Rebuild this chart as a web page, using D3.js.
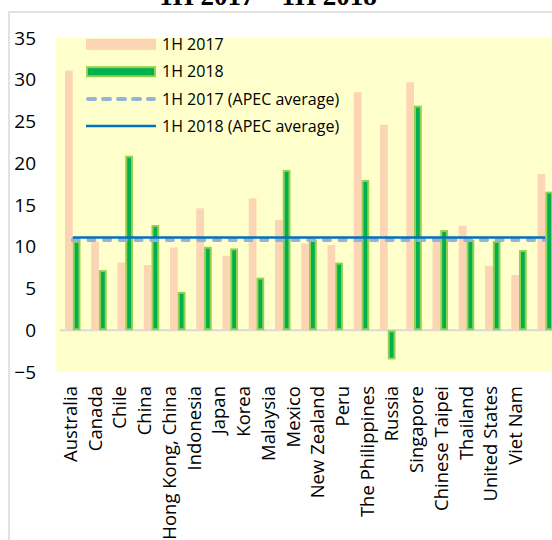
<!DOCTYPE html>
<html><head><meta charset="utf-8">
<script src="https://cdn.jsdelivr.net/npm/d3@7"></script>
<style>
html,body{margin:0;padding:0;background:#fff;}
svg{display:block;}
</style></head>
<body>
<script>
const categories = ["Australia","Canada","Chile","China","Hong Kong, China","Indonesia","Japan","Korea","Malaysia","Mexico","New Zealand","Peru","The Philippines","Russia","Singapore","Chinese Taipei","Thailand","United States","Viet Nam"];
const values2017 = [31.1,10.6,8.1,7.8,9.9,14.6,8.9,15.8,13.2,10.4,10.2,28.5,24.6,29.7,10.6,12.5,7.7,6.6,18.7];
const values2018 = [10.7,7.2,20.9,12.6,4.6,10.0,9.8,6.3,19.2,10.8,8.1,18.0,-3.5,26.9,12.0,10.8,10.7,9.6,16.6];
const avg2017 = 10.8;
const avg2018 = 11.1;
const seriesNames = ["1H 2017","1H 2018","1H 2017 (APEC average)","1H 2018 (APEC average)"];
const yTicks = [-5,0,5,10,15,20,25,30,35];
const title = "1H 2017 – 1H 2018";

const W = 552, H = 540;
const svg = d3.select("body").append("svg").attr("width",W).attr("height",H);

const PINK = "#FCD5B5", GREEN = "#00B050", GREEN_EDGE = "#92D050", DASH = "#95B3D7", BLUE = "#0070C0";
const FONT = "'Open Sans', sans-serif";

// chart border
svg.append("rect").attr("x",9).attr("y",12).attr("width",700).attr("height",700)
  .attr("fill","#fff").attr("stroke","#D9D9D9").attr("stroke-width",1.5);

// title (partially cut at top)
svg.append("text").attr("x",268).attr("y",5).attr("text-anchor","middle")
  .attr("font-family","'Liberation Serif','Times New Roman',serif").attr("font-weight","bold")
  .attr("font-size",27).attr("fill","#000").text(title);

const y = d3.scaleLinear().domain([-5,35]).range([372,38]);
const x = d3.scaleBand().domain(categories).range([59.6,558.4]).paddingInner(0.41).paddingOuter(0.205);
const xs = d3.scaleBand().domain(["2017","2018"]).range([0,x.bandwidth()]);

// plot background
svg.append("rect").attr("x",56).attr("y",y(35)).attr("width",W-56).attr("height",y(-5)-y(35)).attr("fill","#FFFFCC");

// zero line
svg.append("line").attr("x1",60).attr("x2",W).attr("y1",y(0)).attr("y2",y(0))
  .attr("stroke","#D9D9D9").attr("stroke-width",2);

// y axis labels
const yAxis = d3.axisLeft(y).tickValues(yTicks).tickSize(0).tickPadding(0).tickFormat(d3.format("d"));
const gy = svg.append("g").attr("transform","translate(36,0)").call(yAxis);
gy.select(".domain").remove();
gy.selectAll("text").attr("font-family",FONT).attr("font-size",19).attr("fill","#000");

// bars 2017
svg.append("g").selectAll("rect").data(categories).join("rect")
  .attr("x",(d)=>x(d)+xs("2017")).attr("width",xs.bandwidth())
  .attr("y",(d,i)=>y(Math.max(0,values2017[i]))).attr("height",(d,i)=>Math.abs(y(values2017[i])-y(0)))
  .attr("fill",PINK);

// bars 2018
svg.append("g").selectAll("rect").data(categories).join("rect")
  .attr("x",(d)=>x(d)+xs("2018")+1).attr("width",xs.bandwidth()-2)
  .attr("y",(d,i)=>y(Math.max(0,values2018[i]))+1).attr("height",(d,i)=>Math.max(0,Math.abs(y(values2018[i])-y(0))-2))
  .attr("fill",GREEN).attr("stroke",GREEN_EDGE).attr("stroke-width",2);

// average lines
const cx = d => x(d) + x.bandwidth()/2;
const line = v => d3.line().x(d=>cx(d)).y(()=>y(v));
svg.append("path").datum(categories).attr("d",line(avg2017)).attr("fill","none")
  .attr("stroke",DASH).attr("stroke-width",4).attr("stroke-linecap","round").attr("stroke-dasharray","6,9.7");
svg.append("path").datum(categories).attr("d",line(avg2018)).attr("fill","none")
  .attr("stroke",BLUE).attr("stroke-width",2.5);

// category labels
const xl = d3.scalePoint().domain(categories).range([76.5,521.5]);
const xAxis = d3.axisBottom(xl).tickSize(0).tickPadding(0);
const gx = svg.append("g").attr("transform","translate(0,386)").call(xAxis);
gx.select(".domain").remove();
gx.selectAll("text").attr("font-family",FONT).attr("font-size",18.5).attr("fill","#000")
  .attr("transform","rotate(-90)").attr("text-anchor","end").attr("dy",0).attr("y",0).attr("x",0);

// legend
const leg = svg.append("g");
const ly = [44.3,71.7,99,126];
leg.append("rect").attr("x",86).attr("y",ly[0]-5.5).attr("width",70).attr("height",11).attr("fill",PINK);
leg.append("rect").attr("x",87).attr("y",ly[1]-4.5).attr("width",68).attr("height",9).attr("fill",GREEN).attr("stroke",GREEN_EDGE).attr("stroke-width",2);
leg.append("line").attr("x1",88).attr("x2",154).attr("y1",ly[2]).attr("y2",ly[2]).attr("stroke",DASH).attr("stroke-width",4).attr("stroke-linecap","round").attr("stroke-dasharray","7,8");
leg.append("line").attr("x1",86).attr("x2",156).attr("y1",ly[3]).attr("y2",ly[3]).attr("stroke",BLUE).attr("stroke-width",2.5);
leg.selectAll("text").data(seriesNames).join("text").attr("x",162).attr("y",(d,i)=>ly[i]).attr("dy","0.35em")
  .attr("font-family",FONT).attr("font-size",16).attr("fill","#000").text(d=>d);
</script>
</body></html>
